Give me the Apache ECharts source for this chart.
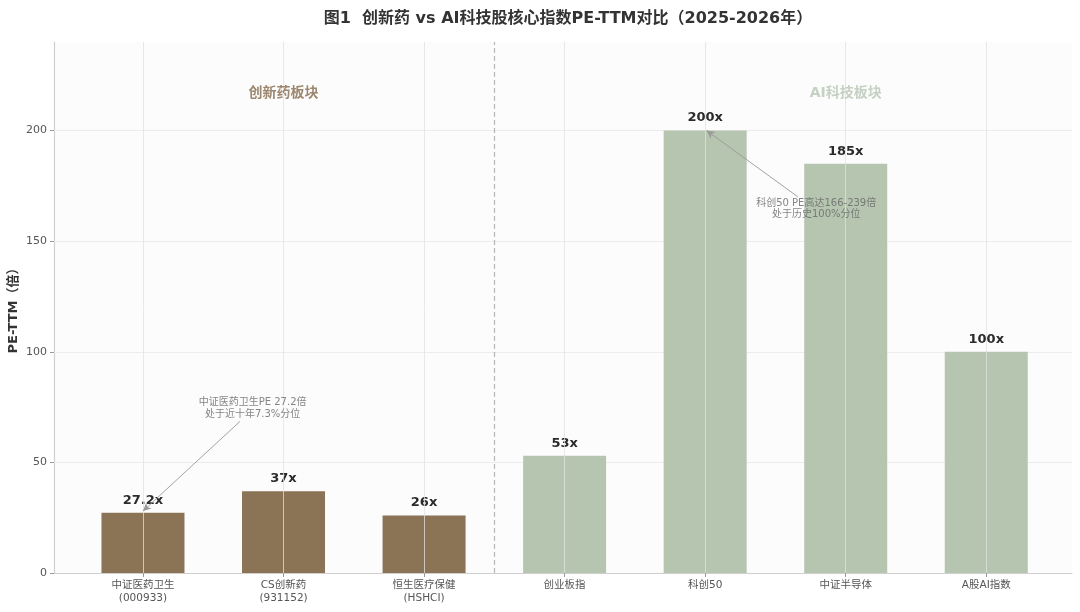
<!DOCTYPE html>
<html>
<head>
<meta charset="utf-8">
<script src="https://cdn.jsdelivr.net/npm/echarts@6/dist/echarts.min.js"></script>
<style>html,body{margin:0;padding:0;background:#fff;}#c{width:1080px;height:612px;}</style>
</head>
<body>
<div id="c"></div>
<script>
const categories = ['中证医药卫生\n(000933)', 'CS创新药\n(931152)', '恒生医疗保健\n(HSHCI)', '创业板指', '科创50', '中证半导体', 'A股AI指数'];
const peValues = [27.2, 37, 26, 53, 200, 185, 100];
const valueLabels = ['27.2x', '37x', '26x', '53x', '200x', '185x', '100x'];
const groups = ['pharma', 'pharma', 'pharma', 'ai', 'ai', 'ai', 'ai'];
const yTicks = [0, 50, 100, 150, 200];
const sectionLabels = [
  { name: '创新药板块', x: 1, y: 217, group: 'pharma' },
  { name: 'AI科技板块', x: 5, y: 217, group: 'ai' }
];
const dividerX = 2.5;
const annotations = [
  { text: '中证医药卫生PE 27.2倍\n处于近十年7.3%分位', textPos: [0.78, 74.5], from: [0.69, 68.5], to: [0.0, 28] },
  { text: '科创50 PE高达166-239倍\n处于历史100%分位', textPos: [4.79, 164.5], from: [4.66, 170], to: [4.01, 200] }
];

const colors = { pharma: '#8b7355', ai: '#b5c5b0' };
const sectionColors = { pharma: '#84694c', ai: '#b7c6b3' };
const FONT = "'DejaVu Sans', 'Noto Sans CJK SC', sans-serif";

const chart = echarts.init(document.getElementById('c'), null, { renderer: 'canvas' });

const barData = peValues.map((v, i) => ({
  value: [i, v],
  itemStyle: { color: colors[groups[i]] },
  label: { formatter: valueLabels[i] }
}));

const option = {
  backgroundColor: '#ffffff',
  animation: false,
  title: {
    text: '图1  创新药 vs AI科技股核心指数PE-TTM对比（2025-2026年）',
    left: 563,
    textAlign: 'center',
    top: 6,
    textStyle: { fontFamily: FONT, fontSize: 16, fontWeight: 'bold', color: '#333' }
  },
  grid: {
    left: 54, right: 8, top: 42, bottom: 39,
    outerBoundsMode: 'none',
    containLabel: false,
    show: true, backgroundColor: '#fcfcfc', borderWidth: 0
  },
  xAxis: {
    type: 'value',
    min: -0.633,
    max: 6.61,
    axisLine: { show: true, onZero: false, lineStyle: { color: '#cfcfcf', width: 1.2 } },
    axisTick: { show: true, customValues: categories.map((c, i) => i), length: 4, lineStyle: { color: '#999' } },
    axisLabel: {
      show: true,
      customValues: categories.map((c, i) => i),
      formatter: (v) => categories[Math.round(v)] || '',
      fontFamily: FONT, fontSize: 10.5, color: '#555', lineHeight: 13, margin: 6
    },
    splitLine: { show: false }
  },
  yAxis: {
    type: 'value',
    min: 0,
    max: 240,
    interval: 50,
    name: 'PE-TTM（倍）',
    nameLocation: 'middle',
    nameGap: 34,
    nameMoveOverlap: false,
    nameTextStyle: { fontFamily: FONT, fontSize: 13, fontWeight: 'bold', color: '#333' },
    axisLine: { show: true, onZero: false, lineStyle: { color: '#cfcfcf', width: 1.2 } },
    axisTick: { show: true, customValues: yTicks, length: 4, lineStyle: { color: '#999' } },
    axisLabel: {
      fontFamily: FONT, fontSize: 11, color: '#555', margin: 7,
      customValues: yTicks,
      formatter: (v) => String(v)
    },
    splitLine: { show: false }
  },
  series: [
    {
      type: 'scatter',
      symbolSize: 0,
      silent: true,
      z: 1,
      data: [[0, 0]],
      markLine: {
        silent: true,
        z: 1,
        symbol: ['none', 'none'],
        label: { show: false },
        lineStyle: { color: '#ececec', type: 'solid', width: 1 },
        data: yTicks.filter(v => v > 0).map(v => ({ yAxis: v }))
      }
    },
    {
      type: 'bar',
      data: barData,
      barWidth: 83,
      z: 2,
      label: {
        show: true,
        position: 'top',
        distance: 6,
        fontFamily: FONT, fontSize: 13, fontWeight: 'bold', color: '#2b2b2b'
      },
      markLine: {
        silent: true,
        symbol: ['none', 'none'],
        label: { show: false },
        lineStyle: { color: 'rgba(225,225,225,0.75)', type: 'solid', width: 1 },
        data: categories.map((c, i) => ({ xAxis: i })),
        z: 3
      }
    },
    {
      type: 'scatter',
      symbolSize: 0,
      silent: true,
      z: 5,
      data: sectionLabels.map(s => ({
        value: [s.x, s.y],
        label: {
          show: true, position: 'inside', formatter: s.name,
          fontFamily: FONT, fontSize: 14, fontWeight: 'bold', color: sectionColors[s.group]
        }
      })),
      markLine: {
        silent: true,
        symbol: ['none', 'none'],
        label: { show: false },
        lineStyle: { color: '#b5b5b5', type: [5, 3], width: 1.2 },
        data: [{ xAxis: dividerX }]
      }
    },
    {
      type: 'scatter',
      symbolSize: 0,
      silent: true,
      z: 6,
      data: annotations.map(a => ({
        value: a.textPos,
        label: {
          show: true, position: 'inside', formatter: a.text,
          fontFamily: FONT, fontSize: 10, color: '#666', lineHeight: 11.5, align: 'center'
        }
      })),
      markLine: {
        silent: true,
        symbol: ['none', 'arrow'],
        symbolSize: [6, 8],
        label: { show: false },
        lineStyle: { color: '#999', type: 'solid', width: 0.9 },
        data: annotations.map(a => [{ coord: a.from }, { coord: a.to }])
      }
    }
  ]
};

chart.setOption(option);
</script>
</body>
</html>
